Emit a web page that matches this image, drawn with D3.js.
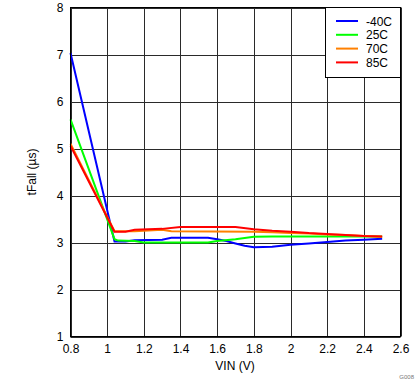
<!DOCTYPE html>
<html><head><meta charset="utf-8">
<script src="https://cdn.jsdelivr.net/npm/d3@7"></script>
<style>body{margin:0;background:#fff}svg{display:block}text{font-family:"Liberation Sans",Arial,sans-serif}</style>
</head><body><svg id="c" width="419" height="382"></svg>
<script>
const seriesNames = ["-40C","25C","70C","85C"];
const seriesColors = ["#0000ff","#00ff00","#ff8000","#ff0000"];
const vinM40 = [0.8,1.04,1.1,1.15,1.3,1.35,1.55,1.6,1.65,1.7,1.75,1.8,1.9,2.0,2.1,2.2,2.3,2.4,2.5];
const tfM40  = [7.03,3.02,3.02,3.05,3.06,3.1,3.1,3.07,3.03,2.98,2.93,2.9,2.91,2.95,2.98,3.01,3.04,3.06,3.08];
const vin25 = [0.8,1.04,1.06,1.15,1.2,1.55,1.6,1.7,1.8,1.9,2.5];
const tf25  = [5.62,3.07,3.04,3.03,3.0,3.0,3.03,3.07,3.12,3.13,3.13];
const vin70 = [0.8,1.04,1.15,1.3,1.35,1.8,1.9,2.0,2.1,2.2,2.3,2.4,2.5];
const tf70  = [5.1,3.24,3.24,3.27,3.24,3.23,3.22,3.2,3.19,3.17,3.16,3.14,3.12];
const vin85 = [0.8,1.04,1.1,1.15,1.3,1.4,1.7,1.8,1.9,2.0,2.1,2.2,2.3,2.4,2.5];
const tf85  = [5.06,3.23,3.23,3.27,3.29,3.33,3.33,3.28,3.25,3.23,3.2,3.18,3.16,3.14,3.13];
const xTicks = [0.8,1,1.2,1.4,1.6,1.8,2,2.2,2.4,2.6];
const yTicks = [1,2,3,4,5,6,7,8];

const svg = d3.select("#c");
const L=70.5, R=400.5, T=7.5, B=336.5;
const x = d3.scaleLinear().domain([0.8,2.6]).range([L,R]);
const y = d3.scaleLinear().domain([1,8]).range([B,T]);

// grid
svg.append("g").selectAll("line").data(xTicks).join("line")
  .attr("x1",d=>Math.round(x(d))+0.5).attr("x2",d=>Math.round(x(d))+0.5).attr("y1",T).attr("y2",B)
  .attr("stroke","#2a2a2a").attr("stroke-width",1);
svg.append("g").selectAll("line").data(yTicks).join("line")
  .attr("y1",d=>Math.round(y(d))+0.5).attr("y2",d=>Math.round(y(d))+0.5).attr("x1",L).attr("x2",R)
  .attr("stroke","#2a2a2a").attr("stroke-width",1);

// axes labels via d3 axes
const xAxis = svg.append("g").attr("transform",`translate(0,${B})`)
  .call(d3.axisBottom(x).tickValues(xTicks).tickSize(0).tickPadding(8).tickFormat(d=>String(+d.toFixed(1))));
xAxis.select(".domain").remove();
xAxis.selectAll("text").attr("font-size",12).attr("fill","#000").attr("font-family","Liberation Sans, Arial, sans-serif");
const yAxis = svg.append("g").attr("transform",`translate(${L},0)`)
  .call(d3.axisLeft(y).tickValues(yTicks).tickSize(0).tickPadding(7).tickFormat(d=>String(d)));
yAxis.select(".domain").remove();
yAxis.selectAll("text").attr("font-size",12).attr("fill","#000").attr("font-family","Liberation Sans, Arial, sans-serif");

// series
const data = [[vinM40,tfM40],[vin25,tf25],[vin70,tf70],[vin85,tf85]];
const line = d3.line().x(d=>x(d[0])).y(d=>y(d[1]));
data.forEach((s,i)=>{
  const pts = s[0].map((v,j)=>[v,s[1][j]]);
  svg.append("path").datum(pts).attr("d",line).attr("fill","none")
    .attr("stroke",seriesColors[i]).attr("stroke-width",2).attr("stroke-linejoin","miter");
});

// frame
svg.append("rect").attr("x",L).attr("y",T).attr("width",R-L).attr("height",B-T)
  .attr("fill","none").attr("stroke","#000").attr("stroke-width",1);

// legend
const lg = svg.append("g");
lg.append("rect").attr("x",325.5).attr("y",T).attr("width",R-325.5).attr("height",70)
  .attr("fill","#fff").attr("stroke","#000").attr("stroke-width",1);
seriesNames.forEach((n,i)=>{
  const yy = 21 + i*13.8;
  lg.append("line").attr("x1",336).attr("x2",358).attr("y1",yy).attr("y2",yy)
    .attr("stroke",seriesColors[i]).attr("stroke-width",2);
  lg.append("text").attr("x",366).attr("y",yy+4.5).attr("font-size",12).text(n);
});

// axis titles
svg.append("text").attr("x",235).attr("y",370).attr("text-anchor","middle").attr("font-size",12).text("VIN (V)");
svg.append("text").attr("transform","translate(36,172) rotate(-90)").attr("text-anchor","middle").attr("font-size",12).text("tFall (µs)");
svg.append("text").attr("x",414).attr("y",379).attr("text-anchor","end").attr("font-size",6).attr("fill","#777").text("G008");
</script></body></html>
